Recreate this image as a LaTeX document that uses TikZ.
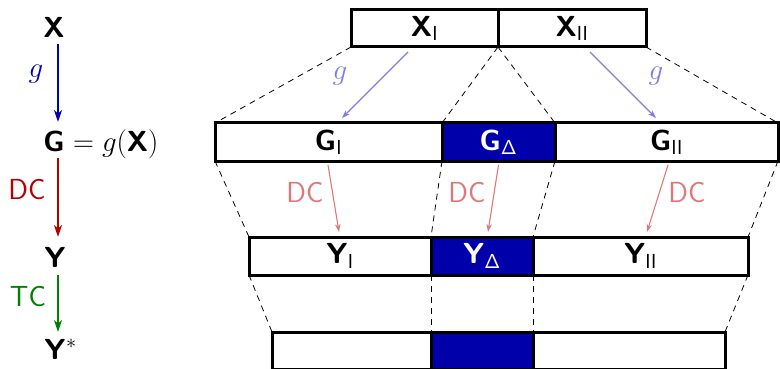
\RequirePackage{fix-cm}
\documentclass[tikz,border=0pt]{standalone}
\usetikzlibrary{arrows.meta,calc}
\definecolor{dblue}{RGB}{0,0,175}
\definecolor{dred}{RGB}{180,0,0}
\definecolor{dgreen}{RGB}{0,128,0}
\definecolor{lblue}{RGB}{125,125,228}
\definecolor{lred}{RGB}{225,120,120}
\definecolor{fillblue}{RGB}{0,0,170}
\begin{document}
\begin{tikzpicture}[x=1pt,y=-1pt,
  every node/.style={font=\fontsize{29}{34}\selectfont\sffamily},
  seg/.style={draw,line width=3pt,inner sep=0pt,outer sep=0pt,minimum height=#1},
  seg/.default=38pt,
  bseg/.style={seg=#1,fill=fillblue,text=white},
  bseg/.default=38pt,
  lbl/.style={anchor=base,inner sep=0pt},
  dsh/.style={dashed,dash pattern=on 6pt off 5pt,line width=0.8pt},
  bigarrow/.style={line width=1.7pt,-{Stealth[length=12pt,width=8pt,inset=3.5pt]}},
  smallarrow/.style={line width=1.1pt,-{Stealth[length=8pt,width=5.5pt,inset=2.5pt]}},
]
\useasboundingbox (0,0) rectangle (780,369);

% ---------- left column ----------
\node[lbl] (X) at (54,38) {\textbf{X}};
\node[lbl] (G) at (54,151) {\textbf{G}};
\node[lbl,anchor=base west] (Geq) at (G.base east) {${}= g($\textbf{X}$)$};
\node[lbl] (Y) at (55,267) {\textbf{Y}};
\node[lbl] (Ys) at (55,359) {\textbf{Y}};
\node[lbl,anchor=base west] (star) at (Ys.base east) {$^{*}$};

\draw[bigarrow,dblue] ($(X.base)+(4,6)$) -- ($(G.base)+(4,-29)$);
\draw[bigarrow,dred] ($(G.base)+(4,7)$) -- ($(Y.base)+(3,-30)$);
\draw[bigarrow,dgreen] ($(Y.base)+(3,8)$) -- ($(Ys.base)+(3,-27)$);

\node[dblue] (gl) at (36,74) {$g$};
\node[dred] (dcl) at (27,190) {DC};
\node[dgreen] (tcl) at (28,297) {TC};

% ---------- right side: rows ----------
\node[seg=37pt,minimum width=147pt] (XI) at (424.5,28.5) {\textbf{X}$_{\mathsf{I}}$};
\node[seg=37pt,minimum width=148pt] (XII) at (572,28.5) {\textbf{X}$_{\mathsf{II}}$};

\node[seg,minimum width=227pt] (GI) at (328.5,142) {\textbf{G}$_{\mathsf{I}}$};
\node[bseg,minimum width=113pt] (GD) at (498.5,142) {\textbf{G}$_{\mathsf{\Delta}}$};
\node[seg,minimum width=223pt] (GII) at (666.5,142) {\textbf{G}$_{\mathsf{II}}$};

\node[seg,minimum width=182pt] (YI) at (340,256) {\textbf{Y}$_{\mathsf{I}}$};
\node[bseg,minimum width=102pt] (YD) at (482,256) {\textbf{Y}$_{\mathsf{\Delta}}$};
\node[seg,minimum width=215pt] (YII) at (640.5,256) {\textbf{Y}$_{\mathsf{II}}$};

\node[seg=37pt,minimum width=159pt] (ZI) at (351.5,350.5) {};
\node[bseg=37pt,minimum width=102pt] (ZD) at (482,350.5) {};
\node[seg=37pt,minimum width=192pt] (ZII) at (629,350.5) {};

% ---------- dashed connections ----------
\draw[dsh] (XI.south west) -- (GI.north west);
\draw[dsh] (XI.south east) -- (GD.north west);
\draw[dsh] (XI.south east) -- (GD.north east);
\draw[dsh] (XII.south east) -- (GII.north east);

\draw[dsh] (GI.south west) -- (YI.north west);
\draw[dsh] (GD.south west) -- (YD.north west);
\draw[dsh] (GD.south east) -- (YD.north east);
\draw[dsh] (GII.south east) -- (YII.north east);

\draw[dsh] (YI.south west) -- (ZI.north west);
\draw[dsh] (YD.south west) -- (ZD.north west);
\draw[dsh] (YD.south east) -- (ZD.north east);
\draw[dsh] (YII.south east) -- (ZII.north east);

% ---------- map arrows ----------
\draw[smallarrow,lblue] ([xshift=-16.5pt,yshift=-5pt]XI.south) -- ([xshift=13.5pt,yshift=5pt]GI.north);
\draw[smallarrow,lblue] ([xshift=18pt,yshift=-5pt]XII.south) -- ([xshift=-10.5pt,yshift=5pt]GII.north);
\node[lblue] (g1) at (340,76) {$g$};
\node[lblue] (g2) at (656,76) {$g$};

\draw[smallarrow,lred] ([xshift=-0.5pt,yshift=-4pt]GI.south) -- ([xshift=-1pt,yshift=5pt]YI.north);
\draw[smallarrow,lred] ([xshift=0pt,yshift=-4pt]GD.south) -- ([xshift=6pt,yshift=5pt]YD.north);
\draw[smallarrow,lred] ([xshift=1.5pt,yshift=-4pt]GII.south) -- ([xshift=6.5pt,yshift=5pt]YII.north);
\node[lred] (dc1) at (305,193) {DC};
\node[lred] (dc2) at (467,193) {DC};
\node[lred] (dc3) at (687,193) {DC};
\end{tikzpicture}
\end{document}
